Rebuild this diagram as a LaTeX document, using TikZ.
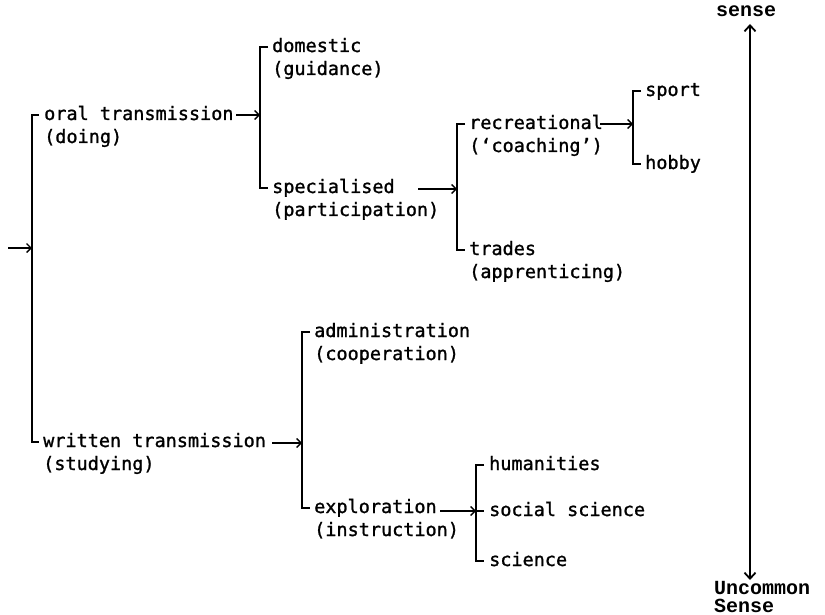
\documentclass[tikz,border=0pt]{standalone}
\usepackage{fontspec}
\newfontfamily\treefont[FakeBold=1.2]{DejaVu Sans Mono}
\newfontfamily\axisfont{Liberation Mono}
\usetikzlibrary{arrows.meta}

% two-line label whose baseline is that of its first line
\newcommand{\twoline}[2]{\begin{tabular}[t]{@{}l@{}}#1\\#2\end{tabular}}

\tikzset{
  leaf/.style={inner sep=0pt, anchor=base west,
    font=\treefont\fontsize{18.5}{23}\selectfont},
  tree/.style={line width=1.3pt, line cap=butt, line join=miter},
  feed/.style={tree, -{Straight Barb[length=4.5pt,width=9pt,line width=1.3pt]}},
  axisline/.style={line width=1.8pt,
    {Straight Barb[length=6pt,width=11pt,line width=1.8pt]}-{Straight Barb[length=6pt,width=11pt,line width=1.8pt]}},
  axislabel/.style={inner sep=0pt, font=\axisfont\bfseries\fontsize{20}{16}\selectfont}
}

\begin{document}
\begin{tikzpicture}[x=1pt,y=-1pt]
\useasboundingbox (0,0) rectangle (825,615);

% ---- junction points of the brackets ----
\coordinate (j0) at (32,248);
\coordinate (j1) at (260,115);
\coordinate (j2) at (457,189);
\coordinate (j3) at (633,124);
\coordinate (j4) at (302,443);
\coordinate (j5) at (476,511);

% ---- starting points of the feeding arrows ----
\coordinate (s0) at (8,248);
\coordinate (s1) at (236,115);
\coordinate (s2) at (418,189);
\coordinate (s3) at (600,124);
\coordinate (s4) at (272,443);
\coordinate (s5) at (440,511);

% ---- labels ----
\node[leaf] (oral)    at (44,120)  {\twoline{oral transmission}{(doing)}};
\node[leaf] (written) at (43,447)  {\twoline{written transmission}{(studying)}};

\node[leaf] (domestic) at (272,52)  {\twoline{domestic}{(guidance)}};
\node[leaf] (special)  at (272,193) {\twoline{specialised}{(participation)}};

\node[leaf] (recre)  at (469,129) {\twoline{recreational}{(‘coaching’)}};
\node[leaf] (trades) at (469,255) {\twoline{trades}{(apprenticing)}};

\node[leaf] (sport) at (645,96)  {sport};
\node[leaf] (hobby) at (645,169) {hobby};

\node[leaf] (admin)   at (314,337) {\twoline{administration}{(cooperation)}};
\node[leaf] (explore) at (314,513) {\twoline{exploration}{(instruction)}};

\node[leaf] (human)  at (489,470) {humanities};
\node[leaf] (social) at (489,516) {social science};
\node[leaf] (sci)    at (489,566) {science};

% ---- brackets ----
\draw[tree] (39,115) -- (32,115) -- (32,442) -- (39,442);
\draw[tree] (268,47) -- (260,47) -- (260,188) -- (268,188);
\draw[tree] (465,124) -- (457,124) -- (457,250) -- (465,250);
\draw[tree] (641,91) -- (633,91) -- (633,164) -- (641,164);
\draw[tree] (310,332) -- (302,332) -- (302,508) -- (310,508);
\draw[tree] (484,465) -- (476,465) -- (476,561) -- (484,561);
\draw[tree] (j5) -- (484,511);

% ---- feeding arrows ----
\draw[feed] (s0) -- (j0);
\draw[feed] (s1) -- (j1);
\draw[feed] (s2) -- (j2);
\draw[feed] (s3) -- (j3);
\draw[feed] (s4) -- (j4);
\draw[feed] (s5) -- (j5);

% ---- sense scale ----
\node[axislabel, anchor=base] (sense) at (746,17) {sense};
\node[axislabel, anchor=base west] (uncommon) at (714,594) {\twoline{Uncommon}{Sense}};
\coordinate (axtop) at (750,24);
\coordinate (axbot) at (750,580);
\draw[axisline] (axtop) -- (axbot);
\end{tikzpicture}
\end{document}
